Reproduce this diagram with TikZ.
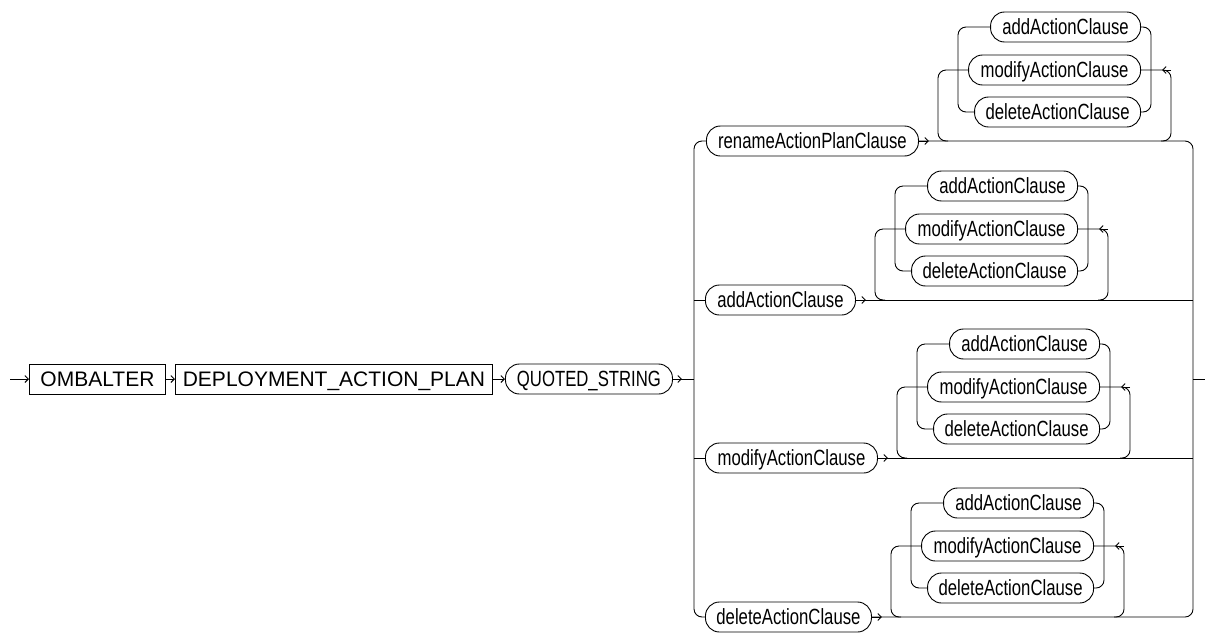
\documentclass[tikz,border=0pt]{standalone}
\usepackage{fontspec}
\usepackage{tikz}
\usetikzlibrary{arrows.meta}
\setmainfont{Liberation Sans}
\newfontfamily\narrowfont{Liberation Sans}[FakeStretch=0.76]

\tikzset{
  kwbox/.style={draw, line width=0.9pt, minimum height=30pt, inner sep=0pt,
    text height=15pt, text depth=0pt, font=\fontsize{21}{21}\selectfont},
  term/.style={draw, line width=0.9pt, rounded corners=14pt, minimum height=30pt, inner sep=0pt,
    text height=15.5pt, text depth=0pt, font=\narrowfont\fontsize{22}{22}\selectfont},
  barb/.style={-{Straight Barb[length=3.5pt,width=7pt]}},
  rail/.style={rounded corners=8pt},
}

\newcommand{\actionloop}[3]{%
  \node[term, minimum width=150pt, anchor=east] (#1A) at (#3+203, #2-114) {addActionClause};
  \node[term, minimum width=172pt, anchor=east] (#1M) at (#3+203, #2-71) {modifyActionClause};
  \node[term, minimum width=166pt, anchor=east] (#1D) at (#3+203, #2-29) {deleteActionClause};
  \coordinate (#1il) at (#3+20, #2-71);
  \coordinate (#1ir) at (#3+213, #2-71);
  \coordinate (#1ret) at (#3+233, #2-71);
  \coordinate (#1ol) at (#3, #2);
  \coordinate (#1or) at (#3+233, #2);
  \draw[rail] (#1A.west) -| (#1il) |- (#1D.west);
  \draw[rail] (#1A.east) -| (#1ir) |- (#1D.east);
  \draw[rail] (#1M.west) -| (#1ol) -- ++(10,0);
  \draw[rail] (#1M.east) -| (#1or) -- ++(-10,0);
  \draw[barb] (#1ret) -- ++(-9,0);
}

\begin{document}
\begin{tikzpicture}[x=1pt, y=-1pt, line width=0.9pt]
  \useasboundingbox (0,0) rectangle (1209,635);

  \node[kwbox, minimum width=136pt, anchor=west] (omb) at (29,379) {OMBALTER};
  \node[kwbox, minimum width=317pt, anchor=west] (dep) at (175,379) {DEPLOYMENT\_ACTION\_PLAN};
  \node[term, minimum width=167pt, anchor=west] (qs) at (505,379) {QUOTED\_STRING};

  \node[term, minimum width=212pt, anchor=west] (ren) at (706,141) {renameActionPlanClause};
  \node[term, minimum width=150pt, anchor=west] (add) at (705,300) {addActionClause};
  \node[term, minimum width=172pt, anchor=west] (mod) at (705,458) {modifyActionClause};
  \node[term, minimum width=166pt, anchor=west] (del) at (705,617) {deleteActionClause};

  \coordinate (entry) at (10,379);
  \coordinate (split) at (694,379);
  \coordinate (join) at (1193,379);
  \coordinate (exit) at (1205,379);

  \draw[barb] (entry) -- (omb.west);
  \draw[barb] (omb.east) -- (dep.west);
  \draw[barb] (dep.east) -- (qs.west);
  \draw (qs.east) -- (split);
  \draw[barb] (qs.east) -- ++(9,0);

  \draw[rail] (ren.west) -| (split) |- (del.west);
  \draw (add.west) -- (add.west -| split);
  \draw (mod.west) -- (mod.west -| split);
  \draw[rail] (ren.east) -| (join) |- (del.east);
  \draw (add.east) -- (add.east -| join);
  \draw (mod.east) -- (mod.east -| join);
  \draw (join) -- (exit);

  \foreach \n in {ren,add,mod,del}
    \draw[barb] (\n.east) -- ++(10,0);

  \actionloop{r}{141}{938}
  \actionloop{a}{300}{875}
  \actionloop{m}{458}{897}
  \actionloop{d}{617}{891}
\end{tikzpicture}
\end{document}
